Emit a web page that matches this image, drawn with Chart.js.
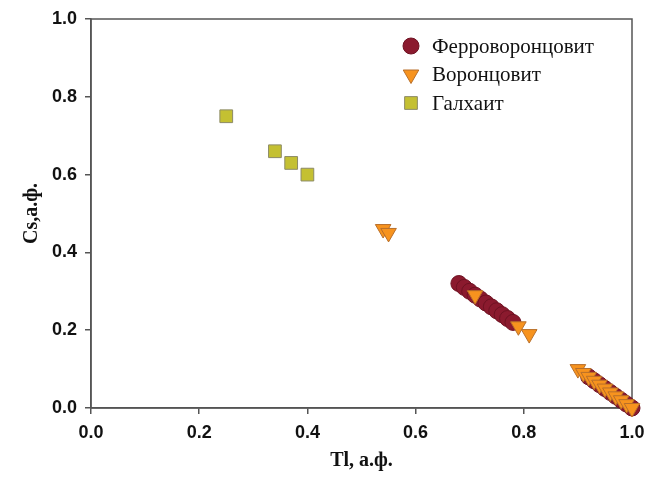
<!DOCTYPE html>
<html>
<head>
<meta charset="utf-8">
<script src="https://cdn.jsdelivr.net/npm/chart.js@4/dist/chart.umd.min.js"></script>
<style>
  html, body { margin: 0; padding: 0; background: #fff; overflow: hidden; }
  canvas { display: block; }
</style>
</head>
<body>
<canvas id="Chart" width="648" height="477"></canvas>
<script>
// Ферроворонцовит (Tl, Cs)
const ferroX = [0.68, 0.69, 0.70, 0.71, 0.72, 0.73, 0.74, 0.75, 0.76, 0.77, 0.78,
                0.92, 0.93, 0.94, 0.95, 0.96, 0.97, 0.98, 0.99, 1.00];
const ferroY = [0.32, 0.31, 0.30, 0.29, 0.28, 0.27, 0.26, 0.25, 0.24, 0.23, 0.22,
                0.08, 0.07, 0.06, 0.05, 0.04, 0.03, 0.02, 0.01, 0.00];
// Воронцовит
const voronX = [0.54, 0.55, 0.71, 0.79, 0.81,
                0.90, 0.91, 0.92, 0.93, 0.94, 0.95, 0.96, 0.97, 0.98, 0.99, 1.00];
const voronY = [0.46, 0.45, 0.29, 0.21, 0.19,
                0.10, 0.09, 0.08, 0.07, 0.06, 0.05, 0.04, 0.03, 0.02, 0.01, 0.00];
// Галхаит
const galX = [0.25, 0.34, 0.37, 0.40];
const galY = [0.75, 0.66, 0.63, 0.60];

const seriesNames = ['Ферроворонцовит', 'Воронцовит', 'Галхаит'];
const xTicks = [0.0, 0.2, 0.4, 0.6, 0.8, 1.0];
const yTicks = [0.0, 0.2, 0.4, 0.6, 0.8, 1.0];

function pts(xs, ys) {
    return xs.map((x, i) => ({ x: x, y: ys[i] }));
}

// рамка вокруг области графика
const frame = {
    id: 'frame',
    beforeDatasetsDraw(chart) {
        const a = chart.chartArea, c = chart.ctx;
        c.save();
        c.strokeStyle = '#555';
        c.lineWidth = 1.5;
        c.strokeRect(a.left, a.top, a.right - a.left, a.bottom - a.top);
        c.restore();
    }
};

// маркер легенды
function marker(c, style, r, x, y) {
    c.beginPath();
    if (style === 'circle') {
        c.arc(x, y, r, 0, Math.PI * 2);
    } else if (style === 'triangle') {
        // треугольник вершиной вниз
        const w = r * Math.sqrt(3) / 2;
        c.moveTo(x - w, y - r / 2);
        c.lineTo(x + w, y - r / 2);
        c.lineTo(x, y + r);
    } else {
        const s = r * Math.SQRT1_2;
        c.rect(x - s, y - s, 2 * s, 2 * s);
    }
    c.closePath();
    c.fill();
    c.stroke();
}

// легенда внутри области графика
const innerLegend = {
    id: 'innerLegend',
    afterDraw(chart) {
        const c = chart.ctx;
        c.save();
        chart.data.datasets.forEach((ds, i) => {
            const cx = 411, cy = 46 + i * 28.5;
            c.fillStyle = ds.backgroundColor;
            c.strokeStyle = ds.borderColor;
            c.lineWidth = ds.borderWidth;
            marker(c, ds.pointStyle, ds.pointRadius, cx, cy);
            c.fillStyle = '#111';
            c.font = '21px "Liberation Serif", "DejaVu Serif", serif';
            c.textBaseline = 'middle';
            c.textAlign = 'left';
            c.fillText(ds.label, 432, cy + 1);
        });
        c.restore();
    }
};

const ctx = document.getElementById('Chart');
const chart = new Chart(ctx, {
    type: 'scatter',
    data: {
        datasets: [{
                label: seriesNames[0],
                data: pts(ferroX, ferroY),
                pointStyle: 'circle',
                pointRadius: 8,
                backgroundColor: '#8b1a2e',
                borderColor: '#6e1222',
                borderWidth: 1,
                clip: false,
                order: 3
            },
            {
                label: seriesNames[1],
                data: pts(voronX, voronY),
                pointStyle: 'triangle',
                pointRotation: 180,
                pointRadius: 9,
                backgroundColor: '#f7931e',
                borderColor: '#b86f2a',
                borderWidth: 1,
                clip: false,
                order: 2
            },
            {
                label: seriesNames[2],
                data: pts(galX, galY),
                pointStyle: 'rect',
                pointRadius: 9,
                backgroundColor: '#c4c032',
                borderColor: '#8c8a66',
                borderWidth: 1,
                clip: false,
                order: 1
            }
        ]
    },
    plugins: [frame, innerLegend],
    options: {
        responsive: false,
        animation: false,
        devicePixelRatio: 1,
        layout: { padding: { left: 16, right: 16, top: 19, bottom: 0 } },
        plugins: {
            legend: { display: false },
            tooltip: { enabled: false }
        },
        scales: {
            x: {
                type: 'linear',
                min: 0,
                max: 1,
                afterFit(scale) {
                    scale.height = 69;
                    scale.paddingLeft = 0;
                    scale.paddingRight = 0;
                },
                afterBuildTicks(scale) { scale.ticks = xTicks.map(v => ({ value: v })); },
                ticks: {
                    padding: 8,
                    color: '#111',
                    font: { family: '"Liberation Sans", Arial, sans-serif', size: 18, weight: 'bold' },
                    callback: v => v.toFixed(1)
                },
                grid: { drawOnChartArea: false, drawTicks: true, tickLength: 6, color: '#555', lineWidth: 1.5 },
                border: { color: '#555', width: 1.5 },
                title: {
                    display: true,
                    text: 'Tl, а.ф.',
                    color: '#111',
                    padding: { top: 4, bottom: 4 },
                    font: { family: '"Liberation Serif", "DejaVu Serif", serif', size: 20, weight: 'bold' }
                }
            },
            y: {
                type: 'linear',
                min: 0,
                max: 1,
                afterFit(scale) {
                    scale.width = 75;
                    scale.paddingTop = 0;
                    scale.paddingBottom = 0;
                },
                afterBuildTicks(scale) { scale.ticks = yTicks.map(v => ({ value: v })); },
                ticks: {
                    padding: 8,
                    color: '#111',
                    font: { family: '"Liberation Sans", Arial, sans-serif', size: 18, weight: 'bold' },
                    callback: v => v.toFixed(1)
                },
                grid: { drawOnChartArea: false, drawTicks: true, tickLength: 6, color: '#555', lineWidth: 1.5 },
                border: { color: '#555', width: 1.5 },
                title: {
                    display: true,
                    text: 'Cs,а.ф.',
                    color: '#111',
                    padding: { top: 4, bottom: 4 },
                    font: { family: '"Liberation Serif", "DejaVu Serif", serif', size: 20, weight: 'bold' }
                }
            }
        }
    }
});
</script>
</body>
</html>
